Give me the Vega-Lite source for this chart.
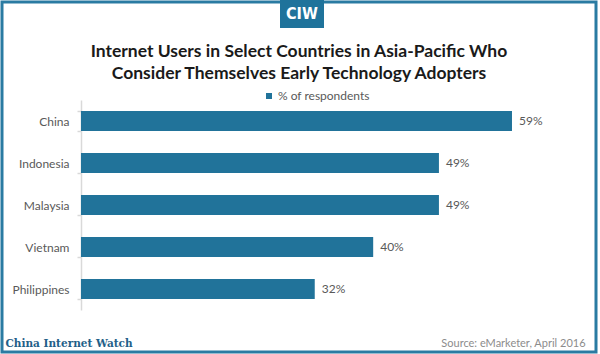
{
  "$schema": "https://vega.github.io/schema/vega-lite/v6.json",
  "width": 594,
  "height": 350,
  "autosize": {"type": "none"},
  "padding": {"left": 2, "top": 2, "right": 4, "bottom": 2},
  "background": "white",
  "config": {"view": {"stroke": "#2a7ba2", "strokeWidth": 3}, "font": "Lato"},
  "title": {
    "text": ["Internet Users in Select Countries in Asia-Pacific Who", "Consider Themselves Early Technology Adopters"],
    "anchor": "middle",
    "frame": "group",
    "baseline": "top",
    "offset": -86,
    "fontSize": 17.5,
    "fontWeight": "bold",
    "color": "#1a1a1a",
    "lineHeight": 22,
    "font": "Lato"
  },
  "data": {
    "values": [
      {"country": "China", "pct": 0.59},
      {"country": "Indonesia", "pct": 0.49},
      {"country": "Malaysia", "pct": 0.49},
      {"country": "Vietnam", "pct": 0.40},
      {"country": "Philippines", "pct": 0.32}
    ]
  },
  "encoding": {
    "y": {
      "field": "country",
      "type": "nominal",
      "sort": null,
      "scale": {"range": [98, 308], "paddingInner": 0.52, "paddingOuter": 0.26},
      "axis": {
        "title": null,
        "orient": "left",
        "offset": -79,
        "tickBand": "extent",
        "domainColor": "#d9d9d9",
        "domainWidth": 1.5,
        "tickColor": "#d9d9d9",
        "tickWidth": 1.5,
        "tickSize": 4,
        "labelPadding": 8,
        "labelColor": "#595959",
        "labelFontSize": 12,
        "labelFont": "Lato",
        "grid": false
      }
    },
    "x": {
      "field": "pct",
      "type": "quantitative",
      "scale": {"domain": [-0.1081, 0.705], "nice": false},
      "axis": {
        "orient": "bottom",
        "offset": -22,
        "domain": false,
        "ticks": false,
        "tickSize": 0,
        "grid": false,
        "values": [0.69],
        "labelExpr": "'Source: eMarketer, April 2016'",
        "labelAlign": "right",
        "labelFlush": false,
        "labelBaseline": "alphabetic",
        "labelPadding": 16,
        "labelColor": "#8c8c8c",
        "labelFontSize": 11,
        "labelFont": "Lato",
        "title": "China Internet Watch",
        "titleAnchor": "start",
        "titleAlign": "left",
        "titleX": 3,
        "titleY": 16,
        "titleBaseline": "alphabetic",
        "titleFont": "DejaVu Serif",
        "titleFontWeight": "bold",
        "titleFontSize": 10.5,
        "titleColor": "#1f6088"
      }
    }
  },
  "layer": [
    {
      "mark": {"type": "bar"},
      "encoding": {
        "x2": {"datum": 0},
        "color": {
          "datum": "% of respondents",
          "scale": {"range": ["#21739a"]},
          "legend": {
            "title": null,
            "orient": "none",
            "legendX": 261,
            "legendY": 88,
            "symbolType": "square",
            "symbolSize": 36,
            "labelFontSize": 12,
            "labelColor": "#595959",
            "labelFont": "Lato",
            "labelOffset": 3
          }
        },
        "strokeDash": {
          "datum": "CIW",
          "legend": {
            "title": null,
            "orient": "none",
            "legendX": 278,
            "legendY": -2,
            "fillColor": "#1f739b",
            "padding": 6,
            "symbolType": "circle",
            "symbolSize": 0,
            "symbolStrokeWidth": 0,
            "symbolOpacity": 0,
            "labelColor": "white",
            "labelFont": "DejaVu Sans Condensed",
            "labelFontWeight": "bold",
            "labelFontSize": 16,
            "labelOffset": -16
          }
        }
      }
    },
    {
      "mark": {"type": "text", "align": "left", "baseline": "middle", "dx": 7, "fontSize": 12, "color": "#595959", "font": "Lato"},
      "encoding": {
        "text": {"field": "pct", "type": "quantitative", "format": ".0%"}
      }
    }
  ]
}
